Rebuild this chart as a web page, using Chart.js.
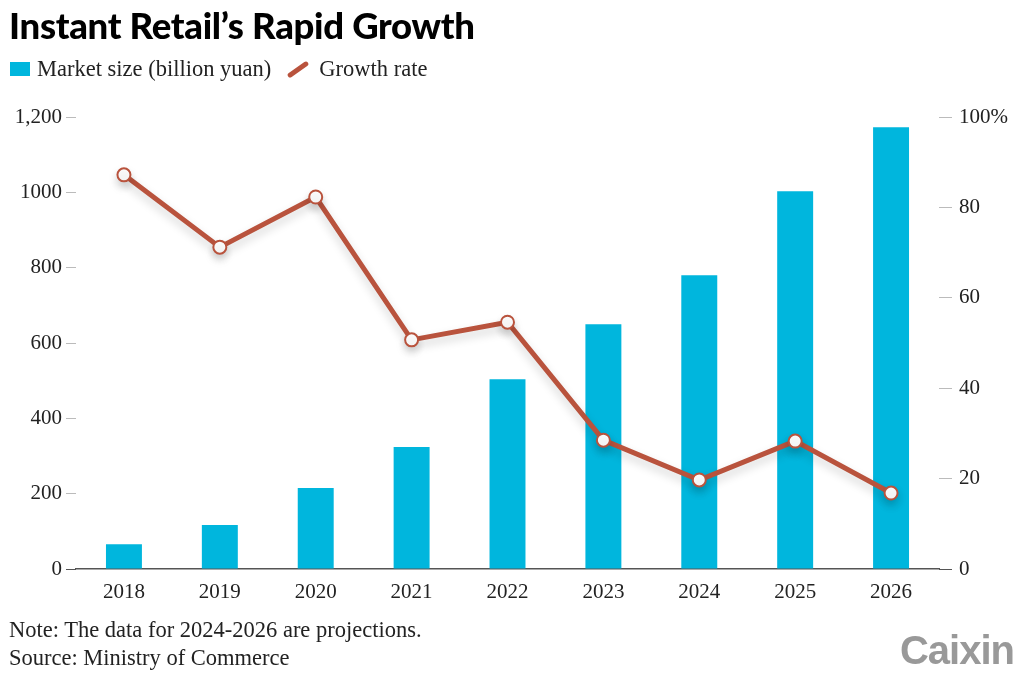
<!DOCTYPE html>
<html>
<head>
<meta charset="utf-8">
<script src="https://cdn.jsdelivr.net/npm/chart.js@4.4.1/dist/chart.umd.min.js"></script>
<style>
  html, body { margin: 0; padding: 0; background: #fff; }
  body { width: 1024px; height: 682px; position: relative; overflow: hidden; }
  #wrap { position: absolute; left: 0; top: 0; width: 1024px; height: 682px; }
  .title { position: absolute; left: 9px; top: 3px; font-family: Lato, sans-serif; font-weight: 900; font-size: 36.5px; color: #000; letter-spacing: -0.3px; }
  .legend { position: absolute; left: 10px; top: 56px; font-family: "Liberation Serif", serif; font-size: 22.5px; color: #222; display: flex; align-items: center; }
  .sw-bar { display: inline-block; width: 20px; height: 14px; background: #00b6dd; margin-right: 7px; }
  .sw-line { display: inline-block; width: 24px; height: 5px; background: #b9533d; border-radius: 3px; transform: rotate(-35deg); margin: 0 9px 0 15px; }
  .note { position: absolute; left: 9px; font-family: "Liberation Serif", serif; font-size: 22.5px; color: #222; }
  .logo { position: absolute; right: 10px; top: 628px; font-family: "Liberation Sans", Arial, sans-serif; font-weight: bold; font-size: 40px; color: #999; letter-spacing: -1px; }
</style>
</head>
<body>
<div id="wrap"><canvas id="grafico"></canvas></div>
<div class="title">Instant Retail’s Rapid Growth</div>
<div class="legend"><span class="sw-bar"></span>Market size (billion yuan)<span class="sw-line"></span>Growth rate</div>
<div class="note" style="top:617px">Note: The data for 2024-2026 are projections.</div>
<div class="note" style="top:645px">Source: Ministry of Commerce</div>
<div class="logo">Caixin</div>
<script>
const anos = ['2018', '2019', '2020', '2021', '2022', '2023', '2024', '2025', '2026'];
const tamanhoMercado = [66, 117, 215, 324, 504, 650, 780, 1003, 1173];
const taxaCrescimento = [87.2, 71.2, 82.3, 50.7, 54.6, 28.5, 19.7, 28.3, 16.8];
const rotulosEsq = ['0', '200', '400', '600', '800', '1000', '1,200'];
const rotulosDir = ['0', '20', '40', '60', '80', '100%'];

const serif = 'Liberation Serif';

// sombra suave por baixo da linha
const sombraLinha = {
    id: 'sombraLinha',
    beforeDatasetDraw(chart, args) {
        if (args.index === 0) {
            const c = chart.ctx;
            c.save();
            c.shadowColor = 'rgba(0,0,0,0.18)';
            c.shadowBlur = 10;
            c.shadowOffsetY = 5;
        }
    },
    afterDatasetDraw(chart, args) {
        if (args.index === 0) chart.ctx.restore();
    }
};

const ctx = document.getElementById('grafico').getContext('2d');
const grafico = new Chart(ctx, {
    data: {
        labels: anos,
        datasets: [
            {
                type: 'line',
                label: 'Growth rate',
                data: taxaCrescimento,
                yAxisID: 'yDir',
                borderColor: '#b9533d',
                borderWidth: 5,
                pointRadius: 6.5,
                pointBorderWidth: 2,
                pointBackgroundColor: '#fff',
                pointBorderColor: '#b9533d',
                order: 0
            },
            {
                type: 'bar',
                label: 'Market size (billion yuan)',
                data: tamanhoMercado,
                yAxisID: 'yEsq',
                backgroundColor: '#00b6dd',
                categoryPercentage: 1,
                barPercentage: 0.375,
                order: 1
            }
        ]
    },
    options: {
        responsive: true,
        maintainAspectRatio: false,
        animation: false,
        layout: { padding: { top: 117, left: 0, right: 0, bottom: 0 } },
        plugins: {
            legend: { display: false },
            tooltip: { enabled: false }
        },
        scales: {
            x: {
                grid: { display: false, drawTicks: false },
                border: { display: true, color: '#555', width: 1.5 },
                ticks: { color: '#222', font: { family: serif, size: 21 }, padding: 11 },
                afterFit(s) { s.height = 113; }
            },
            yEsq: {
                position: 'left',
                min: 0, max: 1200,
                ticks: {
                    stepSize: 200,
                    color: '#222',
                    font: { family: serif, size: 21 },
                    padding: 4,
                    callback: (v) => rotulosEsq[v / 200]
                },
                grid: {
                    drawOnChartArea: false,
                    tickLength: 10,
                    color: (c) => c.tick && c.tick.value === 0 ? '#555' : '#bbb'
                },
                border: { display: false },
                afterFit(s) { s.width = 76; }
            },
            yDir: {
                position: 'right',
                min: 0, max: 100,
                ticks: {
                    stepSize: 20,
                    color: '#222',
                    font: { family: serif, size: 21 },
                    padding: 7,
                    callback: (v) => rotulosDir[v / 20]
                },
                grid: {
                    drawOnChartArea: false,
                    tickLength: 13,
                    color: (c) => c.tick && c.tick.value === 0 ? '#555' : '#bbb'
                },
                border: { display: false },
                afterFit(s) { s.width = 85; }
            }
        }
    },
    plugins: [sombraLinha]
});
</script>
</body>
</html>
